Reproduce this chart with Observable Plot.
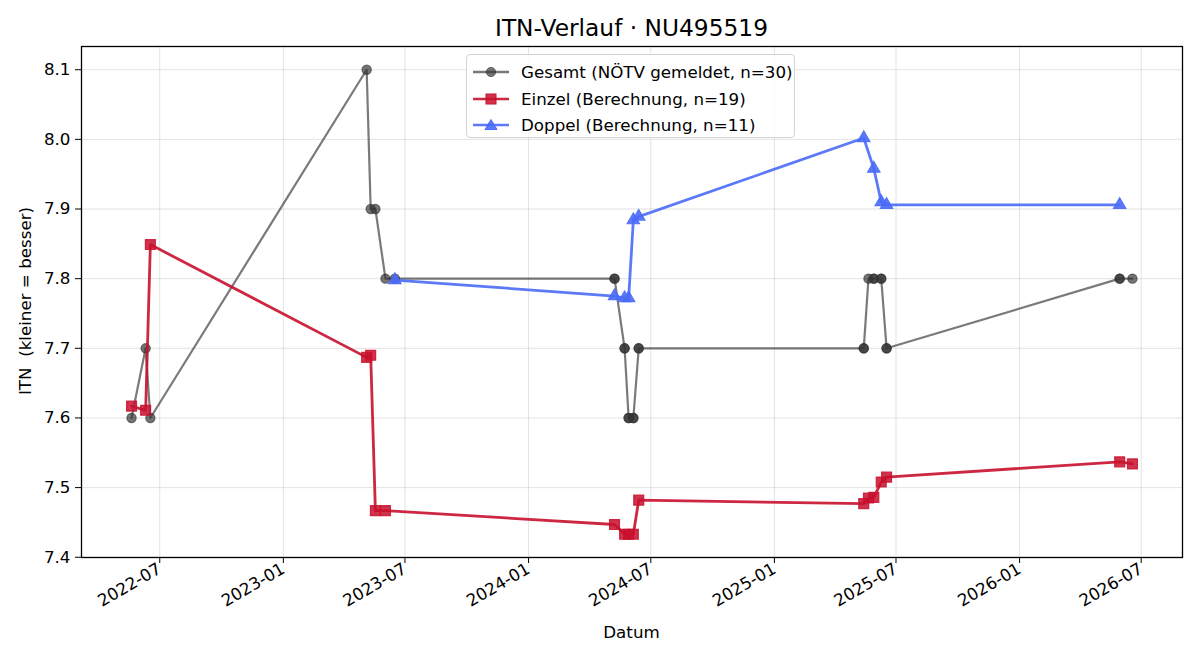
<!DOCTYPE html>
<html>
<head>
<meta charset="utf-8">
<script src="https://cdn.jsdelivr.net/npm/d3@7"></script>
<script src="https://cdn.jsdelivr.net/npm/@observablehq/plot@0.6"></script>
<style>
  html, body { margin: 0; padding: 0; background: #fff; }
  #wrap { position: relative; width: 1200px; height: 660px; font-family: "DejaVu Sans", sans-serif; color: #000; }
  #chart { position: absolute; left: 0; top: 0; }
  #title { position: absolute; left: 81px; width: 1101px; top: 14px; text-align: center; font-size: 23.3px; line-height: 28px; white-space: pre; }
  #xlabel { position: absolute; left: 81px; width: 1101px; top: 622px; text-align: center; font-size: 16.7px; }
  #ylabel { position: absolute; left: 25px; top: 301px; transform: translate(-50%, -50%) rotate(-90deg); font-size: 16.7px; white-space: pre; }
  #legend { position: absolute; left: 466px; top: 54px; width: 329px; height: 84px; box-sizing: border-box;
            border: 1px solid #d4d4d4; border-radius: 4px; background: rgba(255,255,255,0.85); }
  .row { position: absolute; left: 0; height: 26px; display: flex; align-items: center; font-size: 16.7px; white-space: pre; }
  .row svg { margin-left: 5px; margin-right: 11px; }
</style>
</head>
<body>
<div id="wrap">
  <div id="chart"></div>
  <div id="title"></div>
  <div id="xlabel"></div>
  <div id="ylabel"></div>
  <div id="legend"></div>
</div>
<script>
// ---- Data ----
const titleText = "ITN-Verlauf · NU495519";
const xLabelText = "Datum";
const yLabelText = "ITN  (kleiner = besser)";

const seriesLabels = [
  "Gesamt (NÖTV gemeldet, n=30)",
  "Einzel (Berechnung, n=19)",
  "Doppel (Berechnung, n=11)"
];

const gesamtDates = [
  "2022-05-20", "2022-06-10", "2022-06-17",
  "2023-05-05", "2023-05-11", "2023-05-18", "2023-06-02", "2023-06-16",
  "2024-05-08", "2024-05-08", "2024-05-23", "2024-05-23", "2024-05-29", "2024-05-29",
  "2024-06-05", "2024-06-05", "2024-06-13", "2024-06-13",
  "2025-05-14", "2025-05-14", "2025-05-21", "2025-05-29", "2025-05-29",
  "2025-06-09", "2025-06-09", "2025-06-17", "2025-06-17",
  "2026-05-30", "2026-05-30", "2026-06-18"
];
const gesamtValues = [
  7.6, 7.7, 7.6,
  8.1, 7.9, 7.9, 7.8, 7.8,
  7.8, 7.8, 7.7, 7.7, 7.6, 7.6,
  7.6, 7.6, 7.7, 7.7,
  7.7, 7.7, 7.8, 7.8, 7.8,
  7.8, 7.8, 7.7, 7.7,
  7.8, 7.8, 7.8
];

const einzelDates = [
  "2022-05-20", "2022-06-10", "2022-06-17",
  "2023-05-05", "2023-05-11", "2023-05-18", "2023-06-02",
  "2024-05-08", "2024-05-23", "2024-05-29", "2024-06-05", "2024-06-13",
  "2025-05-14", "2025-05-21", "2025-05-29", "2025-06-09", "2025-06-17",
  "2026-05-30", "2026-06-18"
];
const einzelValues = [
  7.617, 7.611, 7.849,
  7.687, 7.690, 7.467, 7.467,
  7.447, 7.433, 7.433, 7.433, 7.482,
  7.477, 7.485, 7.486, 7.508, 7.515,
  7.537, 7.534
];

const doppelDates = [
  "2023-06-16",
  "2024-05-08", "2024-05-23", "2024-05-29", "2024-06-05", "2024-06-13",
  "2025-05-14", "2025-05-29", "2025-06-09", "2025-06-17",
  "2026-05-30"
];
const doppelValues = [
  7.798,
  7.775, 7.772, 7.772, 7.884, 7.889,
  8.002, 7.958, 7.910, 7.906,
  7.906
];

const xTickDates = ["2022-07-01", "2023-01-01", "2023-07-01", "2024-01-01", "2024-07-01",
                    "2025-01-01", "2025-07-01", "2026-01-01", "2026-07-01"];
const yTicks = [7.4, 7.5, 7.6, 7.7, 7.8, 7.9, 8.0, 8.1];

// ---- Build tables ----
const parse = d3.utcParse("%Y-%m-%d");
const mk = (ds, vs) => ds.map((d, i) => ({date: parse(d), value: vs[i]}));
const gesamt = mk(gesamtDates, gesamtValues);
const einzel = mk(einzelDates, einzelValues);
const doppel = mk(doppelDates, doppelValues);
const xTicks = xTickDates.map(parse);

const all = [...gesamt, ...einzel, ...doppel];
const [x0, x1] = d3.extent(all, d => +d.date);
const [y0, y1] = d3.extent(all, d => d.value);
const xPad = (x1 - x0) * 0.05, yPad = (y1 - y0) * 0.05;

const colors = {gesamt: "#333333", einzel: "#c8102e", doppel: "#4a6cf7"};

const chart = Plot.plot({
  width: 1200, height: 660,
  marginLeft: 81, marginRight: 18, marginTop: 46, marginBottom: 103,
  style: {fontFamily: "DejaVu Sans, sans-serif", fontSize: "16.7px", background: "transparent", color: "#000"},
  x: {type: "utc", domain: [new Date(x0 - xPad), new Date(x1 + xPad)]},
  y: {domain: [y0 - yPad, y1 + yPad]},
  marks: [
    Plot.gridX(xTicks, {stroke: "#b0b0b0", strokeOpacity: 0.35, strokeWidth: 1}),
    Plot.gridY(yTicks, {stroke: "#b0b0b0", strokeOpacity: 0.35, strokeWidth: 1}),
    Plot.line(gesamt, {x: "date", y: "value", stroke: colors.gesamt, strokeOpacity: 0.65, strokeWidth: 2.2}),
    Plot.dot(gesamt, {x: "date", y: "value", r: 4.6, fill: colors.gesamt, fillOpacity: 0.68, stroke: colors.gesamt, strokeOpacity: 0.68, strokeWidth: 1.2}),
    Plot.line(einzel, {x: "date", y: "value", stroke: colors.einzel, strokeOpacity: 0.9, strokeWidth: 2.8}),
    Plot.dot(einzel, {x: "date", y: "value", symbol: "square", r: 5.6, fill: colors.einzel, fillOpacity: 0.85, stroke: colors.einzel, strokeOpacity: 0.85, strokeWidth: 1.2}),
    Plot.line(doppel, {x: "date", y: "value", stroke: colors.doppel, strokeOpacity: 0.9, strokeWidth: 2.8}),
    Plot.dot(doppel, {x: "date", y: "value", symbol: "triangle", r: 4.6, fill: colors.doppel, fillOpacity: 0.9, stroke: colors.doppel, strokeOpacity: 0.9, strokeWidth: 1.2}),
    Plot.frame({stroke: "#000", strokeWidth: 1.3}),
    Plot.axisY(yTicks, {tickSize: 6, tickPadding: 5, tickFormat: d => d.toFixed(1), label: null, fontSize: 16.7}),
    Plot.axisX(xTicks, {tickSize: 6, tickPadding: 4, tickRotate: -30, tickFormat: d3.utcFormat("%Y-%m"), label: null, fontSize: 16.7})
  ]
});
document.getElementById("chart").appendChild(chart);

document.getElementById("title").textContent = titleText;
document.getElementById("xlabel").textContent = xLabelText;
document.getElementById("ylabel").textContent = yLabelText;

// ---- Legend ----
const legend = document.getElementById("legend");
const swatches = [
  {color: colors.gesamt, op: 0.65, marker: "circle"},
  {color: colors.einzel, op: 0.9, marker: "square"},
  {color: colors.doppel, op: 0.9, marker: "triangle"}
];
seriesLabels.forEach((lab, i) => {
  const s = swatches[i];
  const row = document.createElement("div");
  row.className = "row";
  row.style.top = (4 + i * 26.5) + "px";
  let m = "";
  if (s.marker === "circle") m = `<circle cx="19" cy="13" r="4.6" fill="${s.color}" fill-opacity="0.68" stroke="${s.color}" stroke-opacity="0.68"/>`;
  if (s.marker === "square") m = `<rect x="14" y="8" width="10" height="10" fill="${s.color}" fill-opacity="0.85" stroke="${s.color}"/>`;
  if (s.marker === "triangle") m = `<path d="M19,7.5 L25,17.5 L13,17.5 Z" fill="${s.color}" fill-opacity="0.9" stroke="${s.color}"/>`;
  row.innerHTML = `<svg width="38" height="26"><line x1="1" y1="13" x2="37" y2="13" stroke="${s.color}" stroke-opacity="${s.op}" stroke-width="2.6"/>${m}</svg><span>${lab}</span>`;
  legend.appendChild(row);
});
</script>
</body>
</html>
